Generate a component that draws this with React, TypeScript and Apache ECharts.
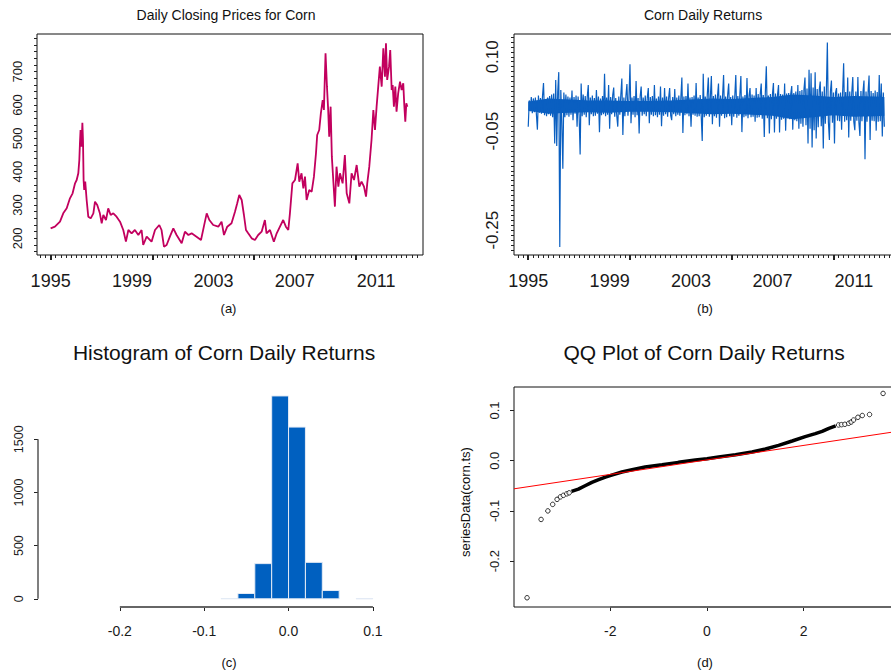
import React, { useEffect, useRef } from "react";
import * as echarts from "echarts";

const FONT = '"Liberation Sans", Arial, sans-serif';

// (a) daily closing prices for corn
const priceYears = [
  1995.0, 1995.21, 1995.46, 1995.62, 1995.79, 1995.95, 1996.08, 1996.2, 1996.28, 1996.36,
  1996.41, 1996.44, 1996.47, 1996.52, 1996.56, 1996.59, 1996.62, 1996.65, 1996.7, 1996.77,
  1996.85, 1996.97, 1997.1, 1997.18, 1997.29, 1997.42, 1997.51, 1997.59, 1997.72, 1997.83,
  1997.95, 1998.08, 1998.24, 1998.41, 1998.57, 1998.7, 1998.82, 1998.98, 1999.14, 1999.31,
  1999.47, 1999.55, 1999.72, 1999.96, 2000.13, 2000.34, 2000.45, 2000.57, 2000.7, 2000.86,
  2001.03, 2001.19, 2001.44, 2001.6, 2001.77, 2001.93, 2002.17, 2002.39, 2002.53, 2002.67,
  2002.8, 2002.99, 2003.24, 2003.4, 2003.52, 2003.68, 2003.89, 2004.06, 2004.17, 2004.27,
  2004.39, 2004.5, 2004.6, 2004.71, 2004.88, 2005.04, 2005.2, 2005.37, 2005.53, 2005.61,
  2005.78, 2005.97, 2006.11, 2006.27, 2006.43, 2006.56, 2006.68, 2006.76, 2006.88, 2007.01,
  2007.14, 2007.22, 2007.33, 2007.42, 2007.5, 2007.58, 2007.71, 2007.83, 2007.94, 2008.04,
  2008.1, 2008.2, 2008.28, 2008.37, 2008.43, 2008.51, 2008.58, 2008.64, 2008.69, 2008.76,
  2008.82, 2008.89, 2008.97, 2009.05, 2009.14, 2009.22, 2009.35, 2009.46, 2009.55, 2009.68,
  2009.79, 2009.91, 2010.04, 2010.17, 2010.28, 2010.4, 2010.5, 2010.56, 2010.66, 2010.77,
  2010.86, 2010.94, 2011.02, 2011.1, 2011.18, 2011.27, 2011.35, 2011.43, 2011.48, 2011.54,
  2011.63, 2011.69, 2011.76, 2011.81, 2011.87, 2011.94, 2012.0, 2012.08, 2012.17, 2012.25,
  2012.33, 2012.38, 2012.43, 2012.48, 2012.53,
];
const prices = [
  230, 235, 250, 275, 290, 320, 335, 365, 375, 395,
  435, 485, 525, 475, 547, 495, 375, 345, 370, 315,
  265, 260, 275, 310, 300, 275, 245, 270, 255, 290,
  270, 275, 265, 250, 225, 190, 225, 215, 225, 210,
  225, 180, 205, 190, 225, 240, 225, 175, 180, 205,
  230, 210, 185, 220, 210, 215, 205, 195, 235, 275,
  255, 240, 235, 250, 210, 235, 245, 280, 305, 330,
  315, 270, 225, 215, 200, 195, 210, 220, 255, 215,
  225, 190, 215, 235, 255, 235, 225, 275, 365, 375,
  425, 370, 395, 350, 385, 315, 345, 340, 385, 455,
  510, 525, 575, 615, 585, 755, 655, 585, 505, 595,
  445, 375, 295, 415, 355, 395, 365, 450, 335, 305,
  395, 375, 420, 355, 370, 355, 325, 365, 415, 495,
  585, 525, 595, 655, 715, 655, 770, 685, 785, 675,
  715, 765, 645, 660, 595, 655, 580, 635, 670, 645,
  665, 600, 550, 605, 595,
];

// (b) daily returns, read as 20 samples per year from Jan 1995
const returnsStart = 1995;
const returnsPerYear = 20;
const returns = [
  // 1995
  -0.041, 0.012, -0.01, 0.019, -0.014, 0.016, -0.012, 0.018, -0.016, -0.047,
  0.022, -0.013, 0.017, -0.015, 0.02, 0.047, -0.018, 0.015, -0.02, 0.018,
  // 1996
  -0.016, 0.021, -0.019, 0.024, -0.022, 0.026, -0.075, 0.053, -0.08, 0.03,
  0.069, -0.284, 0.033, -0.03, -0.126, 0.028, -0.022, 0.024, -0.018, 0.02,
  // 1997
  -0.021, 0.018, -0.017, 0.032, -0.028, 0.019, -0.015, 0.022, -0.041, 0.02,
  -0.018, -0.097, 0.046, -0.02, 0.024, -0.017, 0.021, -0.022, 0.019, 0.043,
  // 1998
  -0.038, 0.018, -0.016, 0.022, -0.02, 0.017, -0.019, 0.033, -0.015, 0.02,
  -0.052, 0.016, -0.018, 0.021, -0.016, 0.066, -0.02, 0.018, -0.017, 0.043,
  // 1999
  -0.045, 0.019, -0.016, 0.022, 0.038, -0.021, 0.017, -0.019, -0.041, 0.02,
  -0.017, 0.023, 0.056, -0.058, 0.018, -0.02, 0.021, 0.045, -0.019, 0.016,
  // 2000
  0.085, -0.034, 0.018, -0.017, 0.021, -0.022, 0.051, -0.018, 0.017, -0.055,
  0.02, 0.04, -0.019, 0.018, -0.016, 0.022, -0.02, 0.017, 0.037, -0.034,
  // 2001
  0.019, -0.017, 0.021, -0.02, 0.043, -0.018, 0.016, -0.022, 0.02, -0.017,
  0.04, -0.04, 0.018, -0.019, 0.037, -0.016, 0.02, -0.021, 0.017, 0.037,
  // 2002
  -0.018, -0.028, 0.019, -0.016, 0.035, -0.02, 0.018, -0.017, 0.022, -0.019,
  0.017, 0.058, -0.054, 0.02, -0.018, 0.021, -0.016, 0.046, -0.02, 0.018,
  // 2003
  -0.041, 0.019, -0.017, 0.022, -0.019, 0.047, -0.021, 0.018, -0.02, 0.023,
  -0.018, -0.07, 0.066, -0.022, 0.02, -0.019, 0.024, 0.058, -0.021, 0.019,
  // 2004
  0.061, -0.036, 0.021, -0.02, 0.024, -0.023, 0.02, 0.046, -0.041, 0.022,
  -0.019, 0.021, 0.063, -0.024, 0.02, -0.022, 0.023, 0.046, -0.02, 0.019,
  // 2005
  -0.038, 0.022, -0.021, 0.02, 0.063, -0.023, 0.021, -0.019, 0.024, 0.061,
  -0.052, 0.02, -0.022, 0.023, -0.02, 0.057, -0.024, 0.021, 0.037, -0.022,
  // 2006
  0.024, -0.021, 0.022, -0.031, 0.037, -0.023, 0.025, -0.022, 0.024, 0.046,
  -0.025, 0.023, -0.062, 0.026, 0.081, -0.024, 0.022, -0.055, 0.025, -0.026,
  // 2007
  0.024, 0.047, -0.053, 0.026, -0.025, 0.023, 0.043, -0.053, 0.025, -0.027,
  0.024, -0.025, 0.046, -0.049, 0.026, -0.024, 0.027, -0.026, 0.025, 0.041,
  // 2008
  -0.047, 0.027, -0.028, 0.03, -0.03, 0.043, -0.045, 0.031, -0.035, 0.033,
  -0.041, 0.034, 0.058, -0.038, 0.036, -0.075, 0.074, -0.045, 0.067, -0.083,
  // 2009
  0.038, -0.048, 0.069, -0.065, 0.035, -0.042, 0.033, 0.05, -0.04, 0.03,
  -0.085, 0.04, -0.035, 0.029, 0.129, -0.031, -0.068, 0.03, 0.052, -0.033,
  // 2010
  0.028, -0.075, 0.027, 0.037, -0.029, 0.026, -0.03, 0.028, -0.047, 0.027,
  0.087, -0.031, 0.029, -0.028, 0.058, -0.063, 0.03, -0.029, 0.028, 0.059,
  // 2011
  -0.031, -0.048, 0.03, -0.029, 0.059, -0.032, -0.06, 0.031, -0.03, 0.029,
  0.052, -0.107, 0.03, -0.031, 0.028, 0.062, -0.068, 0.031, -0.029, 0.027,
  // 2012
  -0.03, 0.032, -0.049, 0.029, -0.031, 0.063, -0.03, 0.046, -0.061, 0.028,
  -0.041,
];
// solid core of the return band (where the daily values overlap), per year
const bandYears = [
  1995, 1996, 1997, 1998, 1999, 2000, 2001, 2002, 2003, 2004, 2005, 2006, 2007, 2008, 2009,
  2010, 2011, 2012, 2012.5,
];
const bandHigh = [
  0.01, 0.016, 0.014, 0.012, 0.012, 0.011, 0.011, 0.012, 0.014, 0.016, 0.015, 0.017, 0.019,
  0.024, 0.022, 0.019, 0.021, 0.02, 0.019,
];
const bandLow = [
  -0.009, -0.015, -0.013, -0.012, -0.013, -0.011, -0.011, -0.012, -0.014, -0.016, -0.015,
  -0.017, -0.019, -0.026, -0.022, -0.018, -0.021, -0.02, -0.019,
];

// (c) histogram bins of the returns
const binStarts = [-0.08, -0.06, -0.04, -0.02, 0, 0.02, 0.04, 0.08];
const binEnds = [-0.06, -0.04, -0.02, 0, 0.02, 0.04, 0.06, 0.1];
const binCounts = [3, 50, 331, 1908, 1615, 343, 78, 2];

// (d) normal QQ plot: dense middle, sparse tails, reference line
const qqBodyX = [
  -2.8, -2.66, -2.52, -2.38, -2.24, -2.1, -1.97, -1.76, -1.55, -1.28, -0.93, -0.59, -0.24,
  0, 0.24, 0.59, 0.93, 1.21, 1.48, 1.76, 2.03, 2.24, 2.38, 2.52, 2.66,
];
const qqBodyY = [
  -0.0612, -0.0566, -0.0499, -0.0432, -0.0379, -0.0326, -0.0286, -0.0226, -0.018, -0.0126,
  -0.008, -0.0033, 0.0013, 0.004, 0.0073, 0.012, 0.0173, 0.0233, 0.0306, 0.0393, 0.0479,
  0.0539, 0.0585, 0.0645, 0.0692,
];
const qqTailX = [
  -3.72, -3.43, -3.29, -3.19, -3.1, -3.03, -2.97, -2.9, -2.85,
  2.72, 2.78, 2.85, 2.93, 2.98, 3.03, 3.12, 3.21, 3.36, 3.64,
];
const qqTailY = [
  -0.273, -0.117, -0.1, -0.087, -0.077, -0.072, -0.069, -0.066, -0.064,
  0.0712, 0.0718, 0.0725, 0.0745, 0.077, 0.081, 0.0865, 0.09, 0.092, 0.134,
];
const qqLineX = [-3.99, 3.99];
const qqLineY = [-0.056, 0.0592];

// tick labels
const yearLabels = [1995, 1999, 2003, 2007, 2011];
const yearMajorTicks = [1995, 2000, 2005, 2010];
const priceLabels = [200, 300, 400, 500, 600, 700];
const returnLabels = [0.1, -0.05, -0.25];
const histXTicks = [-0.2, -0.1, 0, 0.1];
const histYTicks = [0, 500, 1000, 1500];
const qqXTicks = [-2, 0, 2];
const qqYTicks = [-0.2, -0.1, 0, 0.1];

const quarterTicks: number[] = [];
for (let q = 1994 * 4 + 2; q <= 2013 * 4; q++) quarterTicks.push(q / 4);
const priceTicks: number[] = [];
for (let v = 160; v <= 800; v += 20) priceTicks.push(v);
const returnTicks: number[] = [];
for (let k = -29; k <= 14; k++) returnTicks.push(k / 100);

const HIST_X = [-0.297, 0.157];
const HIST_Y = [-77, 1992];
const QQ_X = [-3.99, 3.99];
const QQ_Y = [-0.2914, 0.1468];

const axis = (gridIndex: number, min: number, max: number, extra: any = {}) => ({
  gridIndex,
  type: "value",
  min,
  max,
  axisLine: { show: false, onZero: false },
  splitLine: { show: false },
  axisTick: { show: false },
  axisLabel: { show: false },
  ...extra,
});

const ticks = (values: number[], length: number, width = 1) => ({
  show: true,
  customValues: values,
  length,
  lineStyle: { color: "#222", width },
});

const labels = (values: number[], fontSize: number, margin: number, fmt: (v: number) => string, rotate = 0) => ({
  show: true,
  customValues: values,
  fontSize,
  fontFamily: FONT,
  color: "#1a1a1a",
  margin,
  rotate,
  formatter: fmt,
});

const text = (t: string, x: number, y: number, size: number, rotation = 0) => ({
  type: "text",
  x,
  y,
  rotation,
  style: {
    text: t,
    fill: "#111",
    font: `${size}px ${FONT}`,
    align: "center",
    verticalAlign: "middle",
    textAlign: "center",
    textVerticalAlign: "middle",
  },
});

const App = () => {
  const chartRef = useRef<HTMLDivElement>(null);

  useEffect(() => {
    const chart = echarts.init(chartRef.current as HTMLDivElement, undefined, { renderer: "svg" });

    const border = { show: true, borderColor: "#111", borderWidth: 1, outerBoundsMode: "none" };

    const option = {
      animation: false,
      backgroundColor: "#fff",
      grid: [
        { left: 37, top: 34, width: 386, height: 221, ...border },
        { left: 514, top: 34, width: 386, height: 221, ...border },
        { left: 38, top: 387, width: 383, height: 220, show: false, outerBoundsMode: "none" },
        { left: 514, top: 387, width: 386, height: 220, ...border },
      ],
      xAxis: [
        axis(0, 1994.33, 2013.3, {
          position: "bottom",
          axisTick: ticks(yearMajorTicks, 5, 2),
          axisLabel: labels(yearLabels, 18, 17, (v: number) => String(Math.round(v))),
        }),
        axis(0, 1994.33, 2013.3, { position: "bottom", axisTick: ticks(quarterTicks, 3) }),
        axis(1, 1994.3, 2013.27, {
          position: "bottom",
          axisTick: ticks(yearMajorTicks, 5, 2),
          axisLabel: labels(yearLabels, 18, 17, (v: number) => String(Math.round(v))),
        }),
        axis(1, 1994.3, 2013.27, { position: "bottom", axisTick: ticks(quarterTicks, 3) }),
        axis(2, HIST_X[0], HIST_X[1], {
          position: "bottom",
          axisTick: ticks(histXTicks, 4),
          axisLabel: labels(histXTicks, 14, 17, (v: number) => v.toFixed(1)),
        }),
        axis(3, QQ_X[0], QQ_X[1], {
          position: "bottom",
          axisTick: ticks(qqXTicks, 4),
          axisLabel: labels(qqXTicks, 14, 17, (v: number) => String(v)),
        }),
      ],
      yAxis: [
        axis(0, 150, 813, {
          position: "left",
          axisTick: ticks(priceTicks, 3),
          axisLabel: labels(priceLabels, 13, 13, (v: number) => String(v), 90),
        }),
        axis(1, -0.3, 0.146, {
          position: "left",
          axisTick: ticks(returnTicks, 3),
          axisLabel: labels(returnLabels, 17, 13, (v: number) => v.toFixed(2), 90),
        }),
        axis(2, HIST_Y[0], HIST_Y[1], {
          position: "left",
          axisTick: ticks(histYTicks, 4),
          axisLabel: labels(histYTicks, 12.5, 13, (v: number) => String(v), 90),
        }),
        axis(3, QQ_Y[0], QQ_Y[1], {
          position: "left",
          axisTick: ticks(qqYTicks, 4),
          axisLabel: labels(qqYTicks, 13, 13, (v: number) => v.toFixed(1), 90),
        }),
      ],
      series: [
        {
          name: "Corn price",
          type: "line",
          xAxisIndex: 0,
          yAxisIndex: 0,
          data: priceYears.map((t, i) => [t, prices[i]]),
          symbol: "none",
          lineStyle: { color: "#c2005e", width: 1.8 },
        },
        {
          name: "Corn returns band",
          type: "custom",
          xAxisIndex: 2,
          yAxisIndex: 1,
          data: [[bandYears[0], 0]],
          renderItem: (_params: any, api: any) => {
            const upper = bandYears.map((t, i) => api.coord([t, bandHigh[i]]));
            const lower = bandYears.map((t, i) => api.coord([t, bandLow[i]])).reverse();
            return {
              type: "polygon",
              shape: { points: upper.concat(lower) },
              style: { fill: "#0a5fc1" },
            };
          },
        },
        {
          name: "Corn returns",
          type: "line",
          xAxisIndex: 2,
          yAxisIndex: 1,
          data: returns.map((r, i) => [returnsStart + i / returnsPerYear, r]),
          symbol: "none",
          lineStyle: { color: "#0a5fc1", width: 1.2 },
        },
        {
          name: "Histogram",
          type: "custom",
          xAxisIndex: 4,
          yAxisIndex: 2,
          encode: { x: [0, 1], y: 2 },
          data: binStarts.map((s, i) => [s, binEnds[i], binCounts[i]]),
          renderItem: (_params: any, api: any) => {
            const p0 = api.coord([api.value(0), api.value(2)]);
            const p1 = api.coord([api.value(1), 0]);
            return {
              type: "rect",
              shape: { x: p0[0], y: p0[1], width: p1[0] - p0[0], height: p1[1] - p0[1] },
              style: { fill: "#0060c0", stroke: "#e4ebf5", lineWidth: 1 },
            };
          },
        },
        {
          name: "hist x axis",
          type: "line",
          xAxisIndex: 4,
          yAxisIndex: 2,
          clip: false,
          symbol: "none",
          data: [
            [histXTicks[0], HIST_Y[0]],
            [histXTicks[histXTicks.length - 1], HIST_Y[0]],
          ],
          lineStyle: { color: "#666", width: 2 },
        },
        {
          name: "hist y axis",
          type: "line",
          xAxisIndex: 4,
          yAxisIndex: 2,
          clip: false,
          symbol: "none",
          data: [
            [HIST_X[0], histYTicks[0]],
            [HIST_X[0], histYTicks[histYTicks.length - 1]],
          ],
          lineStyle: { color: "#555", width: 1.5 },
        },
        {
          name: "qq x axis",
          type: "line",
          xAxisIndex: 5,
          yAxisIndex: 3,
          clip: false,
          symbol: "none",
          data: [
            [qqXTicks[0], QQ_Y[0]],
            [QQ_X[1], QQ_Y[0]],
          ],
          lineStyle: { color: "#666", width: 2 },
        },
        {
          name: "QQ body",
          type: "line",
          xAxisIndex: 5,
          yAxisIndex: 3,
          symbol: "none",
          data: qqBodyX.map((x, i) => [x, qqBodyY[i]]),
          lineStyle: { color: "#000", width: 3.5 },
        },
        {
          name: "QQ tails",
          type: "scatter",
          xAxisIndex: 5,
          yAxisIndex: 3,
          symbol: "circle",
          symbolSize: 4.5,
          data: qqTailX.map((x, i) => [x, qqTailY[i]]),
          itemStyle: { color: "#fff", borderColor: "#000", borderWidth: 1 },
        },
        {
          name: "QQ line",
          type: "line",
          xAxisIndex: 5,
          yAxisIndex: 3,
          symbol: "none",
          data: qqLineX.map((x, i) => [x, qqLineY[i]]),
          lineStyle: { color: "#ff0000", width: 1 },
        },
      ],
      graphic: [
        text("Daily Closing Prices for Corn", 226, 15, 14),
        text("Corn Daily Returns", 703, 15, 14),
        text("Histogram of Corn Daily Returns", 224, 352, 21),
        text("QQ Plot of Corn Daily Returns", 704, 352, 21),
        text("(a)", 228.5, 308, 13),
        text("(b)", 705, 308, 13),
        text("(c)", 229, 662, 13),
        text("(d)", 705, 662, 13),
        text("seriesData(corn.ts)", 465, 502, 13, Math.PI / 2),
      ],
    };

    chart.setOption(option as any);

    return () => {
      chart.dispose();
    };
  }, []);

  return (
    <div
      ref={chartRef}
      style={{ position: "fixed", left: 0, top: 0, width: "891px", height: "672px", background: "#fff" }}
    />
  );
};

export default App;
